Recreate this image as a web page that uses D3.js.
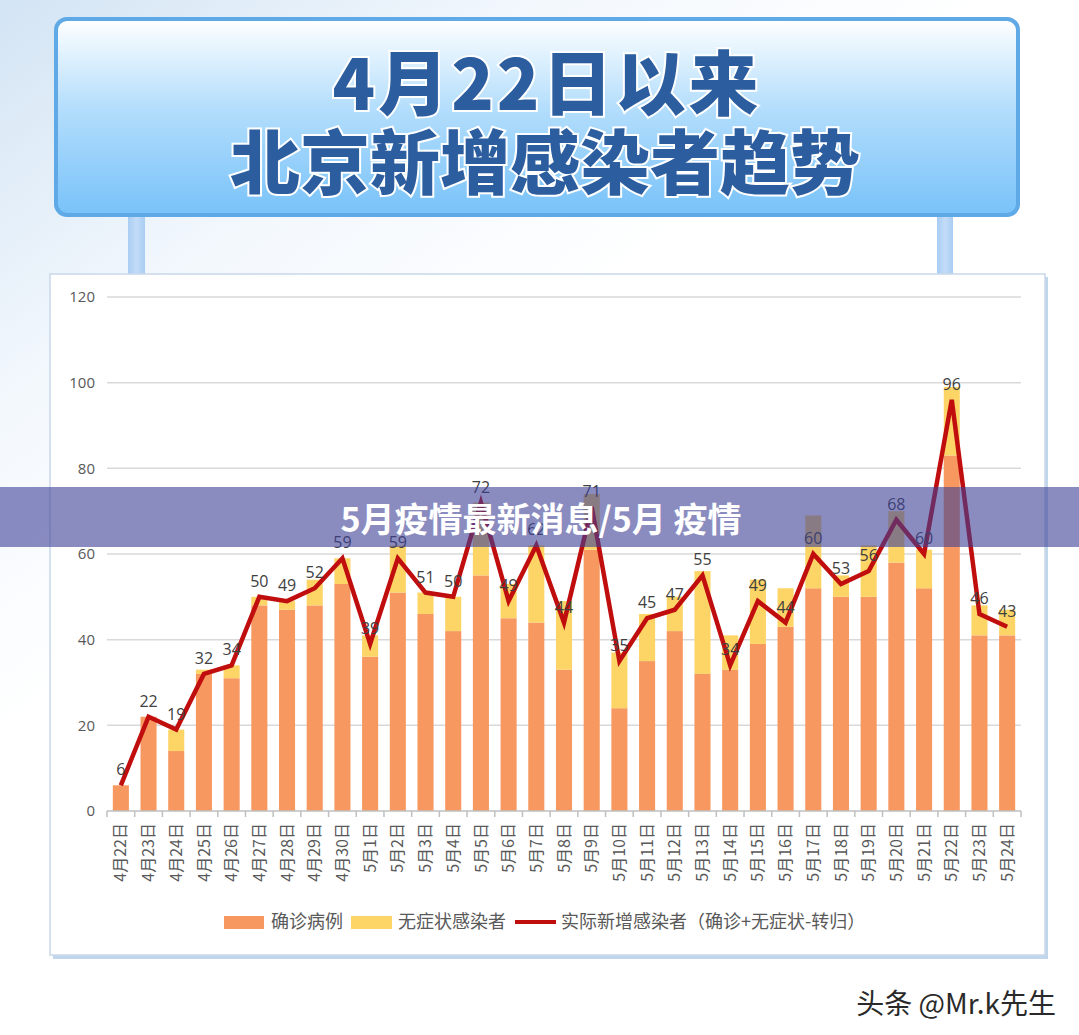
<!DOCTYPE html>
<html><head><meta charset="utf-8">
<script src="https://cdn.jsdelivr.net/npm/d3@7/dist/d3.min.js"></script>
<style>
html,body{margin:0;padding:0;background:#fff;}
svg{display:block;}
</style></head>
<body>
<svg id="c" width="1079" height="1035"></svg>
<script>
const dates = ["4月22日","4月23日","4月24日","4月25日","4月26日","4月27日","4月28日","4月29日","4月30日",
  "5月1日","5月2日","5月3日","5月4日","5月5日","5月6日","5月7日","5月8日","5月9日","5月10日","5月11日",
  "5月12日","5月13日","5月14日","5月15日","5月16日","5月17日","5月18日","5月19日","5月20日","5月21日",
  "5月22日","5月23日","5月24日"];
const confirmed = [6,22,14,32,31,48,47,48,53,36,51,46,42,55,45,44,33,61,24,35,42,32,33,39,43,52,50,50,58,52,83,41,41];
const asymptomatic = [0,0,5,1,3,2,2,6,6,5,11,5,8,17,8,18,16,13,13,11,8,24,8,15,9,17,5,12,12,9,16,7,6];
const actualNew = [6,22,19,32,34,50,49,52,59,39,59,51,50,72,49,62,44,71,35,45,47,55,34,49,44,60,53,56,68,60,96,46,43];
const yTicks = [0,20,40,60,80,100,120];
const legendLabels = ["确诊病例","无症状感染者","实际新增感染者（确诊+无症状-转归）"];
const titleLines = ["4月22日以来","北京新增感染者趋势"];
const bannerText = "5月疫情最新消息/5月 疫情";
const watermark = "头条 @Mr.k先生";

const svg = d3.select("#c");
const defs = svg.append("defs");
const CJK = "'Noto Sans CJK SC','Noto Sans',sans-serif";

// background gradient
const bg = defs.append("linearGradient").attr("id","bg").attr("x1","0").attr("y1","0").attr("x2","0.35").attr("y2","0.45");
bg.append("stop").attr("offset","0").attr("stop-color","#d3e4f4");
bg.append("stop").attr("offset","0.55").attr("stop-color","#f3f8fd");
bg.append("stop").attr("offset","1").attr("stop-color","#ffffff");
svg.append("rect").attr("width",1079).attr("height",1035).attr("fill","url(#bg)");

// title box gradient
const tg = defs.append("linearGradient").attr("id","tg").attr("x1","0").attr("y1","0").attr("x2","0").attr("y2","1");
tg.append("stop").attr("offset","0").attr("stop-color","#ffffff");
tg.append("stop").attr("offset","0.45").attr("stop-color","#b4defc");
tg.append("stop").attr("offset","1").attr("stop-color","#78c2f9");
const pg = defs.append("linearGradient").attr("id","pg").attr("x1","0").attr("y1","0").attr("x2","1").attr("y2","0");
pg.append("stop").attr("offset","0").attr("stop-color","#a9cdf3");
pg.append("stop").attr("offset","0.5").attr("stop-color","#c2dcf7");
pg.append("stop").attr("offset","1").attr("stop-color","#a9cdf3");

// pillars
svg.append("rect").attr("x",128).attr("y",210).attr("width",17).attr("height",66).attr("fill","url(#pg)");
svg.append("rect").attr("x",937).attr("y",210).attr("width",16).attr("height",66).attr("fill","url(#pg)");

// title box
svg.append("rect").attr("x",56).attr("y",19).attr("width",962).attr("height",196).attr("rx",11)
  .attr("fill","url(#tg)").attr("stroke","#5fa9e6").attr("stroke-width",4);
svg.append("text").attr("x",547).attr("y",110).attr("text-anchor","middle")
  .attr("font-family",CJK).attr("font-weight",900).attr("font-size",70).attr("letter-spacing",3)
  .attr("fill","#2c5e9f").attr("stroke","#ffffff").attr("stroke-width",4).attr("paint-order","stroke")
  .text(titleLines[0]);
svg.append("text").attr("x",545).attr("y",189).attr("text-anchor","middle")
  .attr("font-family",CJK).attr("font-weight",900).attr("font-size",70)
  .attr("fill","#2c5e9f").attr("stroke","#ffffff").attr("stroke-width",4).attr("paint-order","stroke")
  .text(titleLines[1]);

// chart panel with shadow
svg.append("rect").attr("x",53).attr("y",277).attr("width",995).attr("height",682).attr("fill","#a8c4e2").attr("opacity",0.7);
svg.append("rect").attr("x",50).attr("y",274).attr("width",995).attr("height",681).attr("fill","#ffffff")
  .attr("stroke","#c9d8ea").attr("stroke-width",1.5);

// scales
const x = d3.scaleBand().domain(dates).range([107,1021]).paddingInner(0.42).paddingOuter(0.21);
const y = d3.scaleLinear().domain([0,120]).range([811,297]);

// gridlines
svg.append("g").selectAll("line").data(yTicks.filter(d=>d>0)).join("line")
  .attr("x1",107).attr("x2",1021).attr("y1",d=>y(d)).attr("y2",d=>y(d))
  .attr("stroke","#d9d9d9").attr("stroke-width",1.5);

// y axis labels
svg.append("g").selectAll("text").data(yTicks).join("text")
  .attr("x",95).attr("y",d=>y(d)).attr("dy","0.35em").attr("text-anchor","end")
  .attr("font-family","'Open Sans','Noto Sans',sans-serif").attr("font-size",15).attr("fill","#595959")
  .text(d=>d);

// bars
const bw = x.bandwidth();
svg.append("g").selectAll("rect").data(dates).join("rect")
  .attr("x",d=>x(d)).attr("width",bw)
  .attr("y",(d,i)=>y(confirmed[i])).attr("height",(d,i)=>y(0)-y(confirmed[i]))
  .attr("fill","#f79860");
svg.append("g").selectAll("rect").data(dates).join("rect")
  .attr("x",d=>x(d)).attr("width",bw)
  .attr("y",(d,i)=>y(confirmed[i]+asymptomatic[i])).attr("height",(d,i)=>y(confirmed[i])-y(confirmed[i]+asymptomatic[i]))
  .attr("fill","#fdd466");

// x axis line and ticks
svg.append("line").attr("x1",107).attr("x2",1021).attr("y1",811).attr("y2",811).attr("stroke","#bfbfbf").attr("stroke-width",1.5);
const tickXs = dates.map(d=>x(d)-x.step()*x.paddingInner()/2).concat([x(dates[dates.length-1])+bw+x.step()*x.paddingInner()/2]);
svg.append("g").selectAll("line").data(tickXs).join("line")
  .attr("x1",d=>d).attr("x2",d=>d).attr("y1",811).attr("y2",817).attr("stroke","#bfbfbf").attr("stroke-width",1.5);

// x labels
svg.append("g").selectAll("text").data(dates).join("text")
  .attr("transform",d=>`translate(${x(d)+bw/2},823) rotate(-90)`)
  .attr("text-anchor","end").attr("dy","0.35em")
  .attr("font-family",CJK).attr("font-size",16).attr("fill","#595959")
  .text(d=>d);

// line
const line = d3.line().x((d,i)=>x(dates[i])+bw/2).y(d=>y(d));
svg.append("path").datum(actualNew).attr("d",line).attr("fill","none")
  .attr("stroke","#c00d0d").attr("stroke-width",4.5).attr("stroke-linejoin","miter");

// data labels
svg.append("g").selectAll("text").data(actualNew).join("text")
  .attr("x",(d,i)=>x(dates[i])+bw/2).attr("y",d=>y(d)-10).attr("text-anchor","middle")
  .attr("font-family","'Open Sans','Noto Sans',sans-serif").attr("font-size",16).attr("fill","#404040")
  .text(d=>d);

// legend
const lg = svg.append("g").attr("font-family",CJK).attr("font-size",18).attr("fill","#595959");
lg.append("rect").attr("x",224).attr("y",916).attr("width",40).attr("height",13).attr("fill","#f79860");
lg.append("text").attr("x",271).attr("y",922).attr("dy","0.35em").text(legendLabels[0]);
lg.append("rect").attr("x",351).attr("y",916).attr("width",41).attr("height",13).attr("fill","#fdd466");
lg.append("text").attr("x",398).attr("y",922).attr("dy","0.35em").text(legendLabels[1]);
lg.append("line").attr("x1",515).attr("x2",556).attr("y1",922).attr("y2",922).attr("stroke","#c00d0d").attr("stroke-width",4);
lg.append("text").attr("x",561).attr("y",922).attr("dy","0.35em").text(legendLabels[2]);

// overlay banner
svg.append("rect").attr("x",0).attr("y",487).attr("width",1079).attr("height",60)
  .attr("fill","#3c3f96").attr("opacity",0.6);
svg.append("text").attr("x",541).attr("y",532).attr("text-anchor","middle")
  .attr("font-family",CJK).attr("font-weight",700).attr("font-size",34).attr("fill","#ffffff")
  .text(bannerText);

// watermark
svg.append("text").attr("x",1056).attr("y",1014).attr("text-anchor","end")
  .attr("font-family",CJK).attr("font-size",28).attr("fill","#2a2a2a")
  .attr("stroke","#ffffff").attr("stroke-width",2).attr("paint-order","stroke")
  .text(watermark);
</script>
</body></html>
